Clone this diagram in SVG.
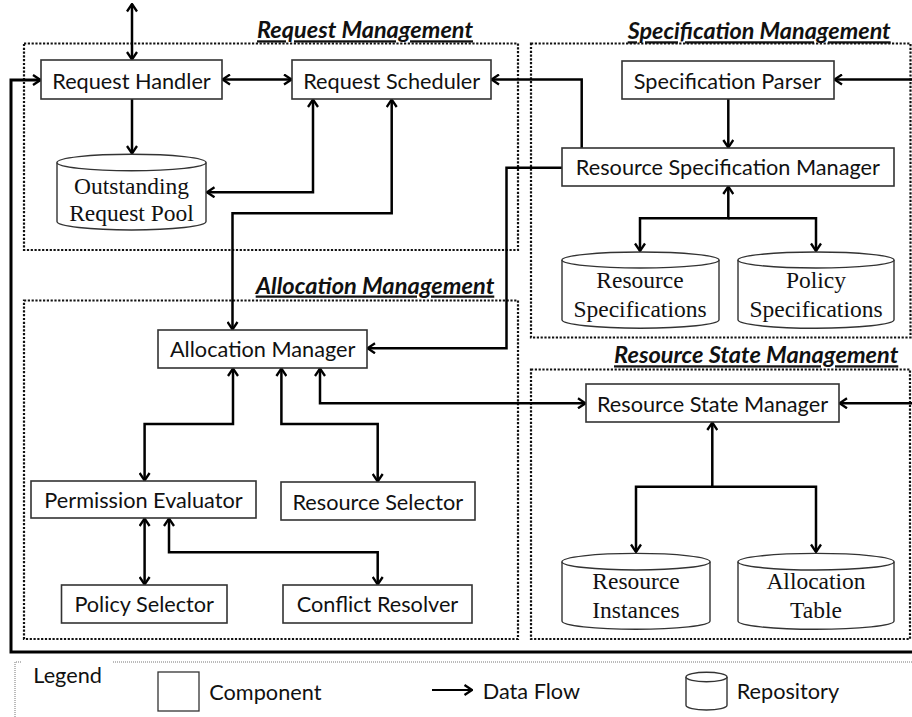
<svg xmlns="http://www.w3.org/2000/svg" width="912" height="717" viewBox="0 0 912 717">
<defs>
<marker id="ah" viewBox="0 0 10 12" refX="9" refY="6" markerWidth="10" markerHeight="12" markerUnits="userSpaceOnUse" orient="auto-start-reverse">
<path d="M1.5,1 L9,6 L1.5,11" fill="none" stroke="#000" stroke-width="2.3"/>
</marker>
</defs>
<style>
.box{fill:#fff;stroke:#333;stroke-width:1.6}
.cyl{fill:#fff;stroke:#333;stroke-width:1.4}
.lbl{font-family:Lato,"Liberation Sans",sans-serif;font-size:21.7px;fill:#111;text-anchor:middle}
.leg{font-family:Lato,"Liberation Sans",sans-serif;font-size:21.7px;fill:#111}
.ser{font-family:"Liberation Serif","Times New Roman",serif;font-size:23.5px;fill:#111;text-anchor:middle}
.grp{fill:none;stroke:#111;stroke-width:2.2;stroke-dasharray:2.2 1.6}
.ttl{font-family:Lato,"Liberation Sans",sans-serif;font-weight:bold;font-style:italic;font-size:22.5px;fill:#111;text-anchor:end;text-decoration:underline}
.con{fill:none;stroke:#000;stroke-width:2.5}
.a2{marker-start:url(#ah);marker-end:url(#ah)}
.a1{marker-end:url(#ah)}
</style>
<rect width="912" height="717" fill="#fff"/>

<g id="groups">
<g id="request-management">
<rect class="grp" x="24" y="43.5" width="494" height="206.5"/>
<text class="ttl" x="473" y="38.3" textLength="216" lengthAdjust="spacingAndGlyphs">Request Management</text>
</g>
<g id="specification-management">
<rect class="grp" x="531" y="43.5" width="379.5" height="294"/>
<text class="ttl" x="890.7" y="39.3" textLength="263" lengthAdjust="spacingAndGlyphs">Specification Management</text>
</g>
<g id="allocation-management">
<rect class="grp" x="24" y="300.5" width="494" height="338.5"/>
<text class="ttl" x="494.3" y="293.5" textLength="238.6" lengthAdjust="spacingAndGlyphs">Allocation Management</text>
</g>
<g id="resource-state-management">
<rect class="grp" x="531" y="369.5" width="379" height="269.5"/>
<text class="ttl" x="898.3" y="363.3" textLength="284.3" lengthAdjust="spacingAndGlyphs">Resource State Management</text>
</g>
</g>

<g id="connectors">
<path class="con a2" d="M132,4 V59.5"/>
<path class="con a1" d="M132,99 V153.5"/>
<path class="con a2" d="M222.5,79.5 H291.5"/>
<path class="con a2" d="M313,99.5 V192.3 H207"/>
<path class="con a2" d="M391.7,99.5 V213.3 H232.5 V329.5"/>
<path class="con a1" d="M581.7,148 V79.5 H491.5"/>
<path class="con a1" d="M562,167.7 H506.5 V348.3 H367.5"/>
<path class="con a1" d="M912,652 H11 V80 H40.5" style="stroke-width:3"/>
<path class="con a1" d="M912,79.5 H834.5"/>
<path class="con a1" d="M728.3,99 V147.5"/>
<path class="con a2" d="M728.3,186.5 V218.3 H640 V251"/>
<path class="con a1" d="M728.3,218.3 H816 V251"/>
<path class="con a2" d="M233,368.5 V424 H144.6 V480.5"/>
<path class="con a2" d="M281.4,368.5 V424 H377.7 V481.5"/>
<path class="con a2" d="M320,368.5 V403.3 H585.5"/>
<path class="con a2" d="M144.6,518.5 V584.5"/>
<path class="con a2" d="M169,518.5 V552.3 H377.7 V584.5"/>
<path class="con a1" d="M912,403.3 H839.5"/>
<path class="con a2" d="M712.3,422.5 V486.7 H636 V552"/>
<path class="con a1" d="M712.3,486.7 H816 V552"/>
</g>

<g id="request-handler">
<rect class="box" x="41" y="60" width="181" height="39"/>
<text class="lbl" x="131.5" y="88.5">Request Handler</text>
</g>
<g id="request-scheduler">
<rect class="box" x="292" y="60" width="199" height="39"/>
<text class="lbl" x="391.7" y="88.5">Request Scheduler</text>
</g>
<g id="outstanding-request-pool">
<path class="cyl" d="M57,162.5 V221.5 A74.5,8.5 0 0 0 206,221.5 V162.5"/>
<ellipse class="cyl" cx="131.5" cy="162.5" rx="74.5" ry="8.3"/>
<text class="ser" x="131.5" y="194.3">Outstanding</text>
<text class="ser" x="131.5" y="220.7">Request Pool</text>
</g>
<g id="specification-parser">
<rect class="box" x="622" y="61" width="212" height="38"/>
<text class="lbl" x="727.5" y="88.5">Specification Parser</text>
</g>
<g id="resource-specification-manager">
<rect class="box" x="562" y="148" width="332" height="38"/>
<text class="lbl" x="727.9" y="175">Resource Specification Manager</text>
</g>
<g id="resource-specifications">
<path class="cyl" d="M562,260 V319.8 A78.5,8.5 0 0 0 719,319.8 V260"/>
<ellipse class="cyl" cx="640.5" cy="260" rx="78.5" ry="8"/>
<text class="ser" x="640" y="288.3">Resource</text>
<text class="ser" x="640" y="317.3">Specifications</text>
</g>
<g id="policy-specifications">
<path class="cyl" d="M738,260 V319.8 A78,8.5 0 0 0 894,319.8 V260"/>
<ellipse class="cyl" cx="816" cy="260" rx="78" ry="8"/>
<text class="ser" x="816" y="288.3">Policy</text>
<text class="ser" x="816" y="317.3">Specifications</text>
</g>
<g id="allocation-manager">
<rect class="box" x="158" y="330" width="209" height="38"/>
<text class="lbl" x="262.7" y="357">Allocation Manager</text>
</g>
<g id="permission-evaluator">
<rect class="box" x="31" y="481" width="225" height="37"/>
<text class="lbl" x="143.5" y="508">Permission Evaluator</text>
</g>
<g id="resource-selector">
<rect class="box" x="281" y="482" width="194" height="38"/>
<text class="lbl" x="377.8" y="509.5">Resource Selector</text>
</g>
<g id="policy-selector">
<rect class="box" x="61.5" y="585" width="165.5" height="38"/>
<text class="lbl" x="144.2" y="612">Policy Selector</text>
</g>
<g id="conflict-resolver">
<rect class="box" x="283" y="585" width="189" height="38"/>
<text class="lbl" x="377.5" y="612">Conflict Resolver</text>
</g>
<g id="resource-state-manager">
<rect class="box" x="586" y="384" width="253" height="38"/>
<text class="lbl" x="712.5" y="411.5">Resource State Manager</text>
</g>
<g id="resource-instances">
<path class="cyl" d="M562,561.7 V621 A74,8.3 0 0 0 710,621 V561.7"/>
<ellipse class="cyl" cx="636" cy="561.7" rx="74" ry="8.3"/>
<text class="ser" x="636" y="589.3">Resource</text>
<text class="ser" x="636" y="618.3">Instances</text>
</g>
<g id="allocation-table">
<path class="cyl" d="M738,561.7 V621 A78,8.3 0 0 0 894,621 V561.7"/>
<ellipse class="cyl" cx="816" cy="561.7" rx="78" ry="8.3"/>
<text class="ser" x="816" y="589.3">Allocation</text>
<text class="ser" x="816" y="618.3">Table</text>
</g>

<g id="legend">
<path d="M15,717 V662 H22 M113,662 H912" fill="none" stroke="#777" stroke-width="1" stroke-dasharray="1 1"/>
<text class="leg" x="33.3" y="682.7">Legend</text>
<rect class="box" x="158" y="672" width="41" height="39" style="stroke-width:1.3"/>
<text class="leg" x="209.3" y="700">Component</text>
<path class="con a1" d="M432,690 H472" style="stroke-width:2"/>
<text class="leg" x="482.7" y="698.5">Data Flow</text>
<path class="cyl" d="M686,677 V705.3 A20.5,4.7 0 0 0 727,705.3 V677"/>
<ellipse class="cyl" cx="706.5" cy="677" rx="20.5" ry="4.7"/>
<text class="leg" x="736.7" y="698.5">Repository</text>
</g>
</svg>
